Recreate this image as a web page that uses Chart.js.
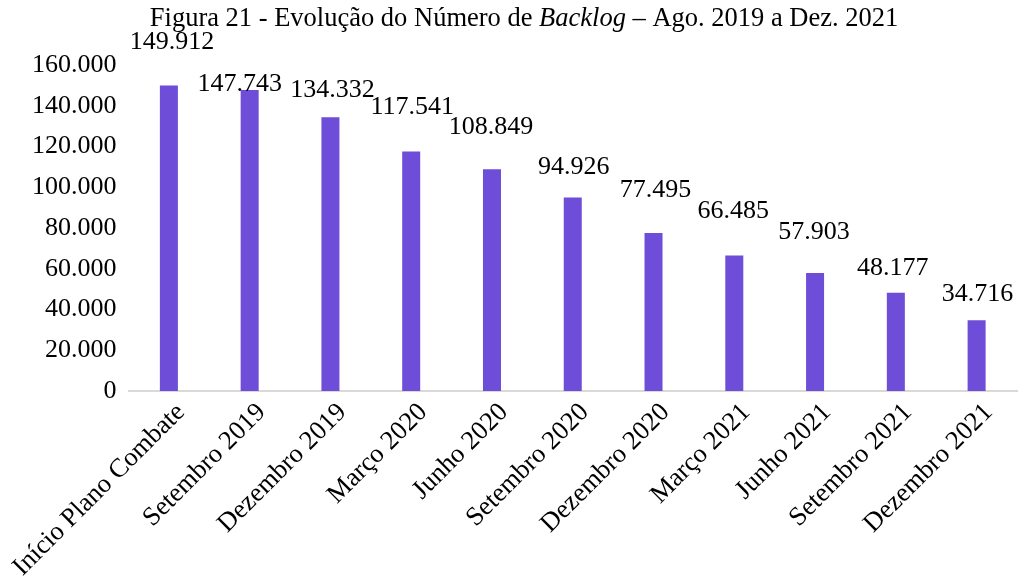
<!DOCTYPE html>
<html>
<head>
<meta charset="utf-8">
<script src="https://cdn.jsdelivr.net/npm/chart.js@4/dist/chart.umd.min.js"></script>
<style>
  html, body { margin: 0; padding: 0; background: #fff; }
  #wrap { width: 1020px; height: 587px; position: relative; }
</style>
</head>
<body>
<div id="wrap"><canvas id="barChart"></canvas></div>
<script>
const categories = ['Início Plano Combate', 'Setembro 2019', 'Dezembro 2019', 'Março 2020', 'Junho 2020',
  'Setembro 2020', 'Dezembro 2020', 'Março 2021', 'Junho 2021', 'Setembro 2021', 'Dezembro 2021'];
const backlog = [149912, 147743, 134332, 117541, 108849, 94926, 77495, 66485, 57903, 48177, 34716];
const yTicks = [0, 20000, 40000, 60000, 80000, 100000, 120000, 140000, 160000];

// label nudges (px) to mimic the original placement of the value labels
const labelLift = [43, 6, 27, 44, 42, 30, 43, 44, 41, 25, 26];
const labelShiftX = [3, -10, 2, 1, -1, 1, 2, -1, -1, -3, 1];

const FONT = '"Liberation Serif", "Times New Roman", serif';

function fmt(v) {
  return String(v).replace(/\B(?=(\d{3})+(?!\d))/g, '.');
}

// Title with italic word, drawn at the top of the canvas
const titlePlugin = {
  id: 'richTitle',
  afterDraw(chart) {
    const ctx = chart.ctx;
    const parts = [
      { t: 'Figura 21 - Evolução do Número de ', s: 'normal' },
      { t: 'Backlog', s: 'italic' },
      { t: ' – Ago. 2019 a Dez. 2021', s: 'normal' }
    ];
    ctx.save();
    ctx.fillStyle = '#000';
    ctx.textBaseline = 'middle';
    let total = 0;
    parts.forEach(p => {
      ctx.font = p.s + ' 26.5px ' + FONT;
      p.w = ctx.measureText(p.t).width;
      total += p.w;
    });
    let x = 524 - total / 2;
    parts.forEach(p => {
      ctx.font = p.s + ' 26.5px ' + FONT;
      ctx.textAlign = 'left';
      ctx.fillText(p.t, x, 19);
      x += p.w;
    });
    ctx.restore();
  }
};

// Value labels above each bar
const valueLabels = {
  id: 'valueLabels',
  afterDatasetsDraw(chart) {
    const ctx = chart.ctx;
    const meta = chart.getDatasetMeta(0);
    ctx.save();
    ctx.font = '26px ' + FONT;
    ctx.fillStyle = '#000';
    ctx.textAlign = 'center';
    ctx.textBaseline = 'middle';
    meta.data.forEach((bar, i) => {
      ctx.fillText(fmt(backlog[i]), bar.x + labelShiftX[i], bar.y - labelLift[i]);
    });
    ctx.restore();
  }
};

const ctx = document.getElementById('barChart').getContext('2d');
new Chart(ctx, {
  type: 'bar',
  data: {
    labels: categories,
    datasets: [{
      label: 'Backlog',
      data: backlog,
      backgroundColor: '#6e4dd9',
      categoryPercentage: 1,
      barPercentage: 0.223
    }]
  },
  options: {
    responsive: true,
    maintainAspectRatio: false,
    animation: false,
    layout: { padding: { top: 65, left: 32, right: 3, bottom: 0 } },
    plugins: {
      legend: { display: false },
      tooltip: { enabled: false },
      title: { display: false }
    },
    scales: {
      x: {
        grid: { display: false, drawTicks: false },
        border: { display: true, color: '#d9d9d9', width: 2 },
        afterFit(scale) {
          scale.paddingLeft = 0;
          scale.paddingRight = 0;
          scale.height = 196;
        },
        ticks: {
          color: '#000',
          font: { family: FONT, size: 26.5 },
          minRotation: 45,
          maxRotation: 45,
          padding: 6,
          labelOffset: 12,
          autoSkip: false
        }
      },
      y: {
        min: 0,
        max: 160000,
        afterBuildTicks(axis) {
          axis.ticks = yTicks.map(v => ({ value: v }));
        },
        afterFit(scale) {
          scale.width = 96.5;
        },
        grid: { display: false, drawTicks: false },
        border: { display: false },
        ticks: {
          color: '#000',
          font: { family: FONT, size: 26 },
          padding: 12,
          callback: v => fmt(v)
        }
      }
    }
  },
  plugins: [titlePlugin, valueLabels]
});
</script>
</body>
</html>
